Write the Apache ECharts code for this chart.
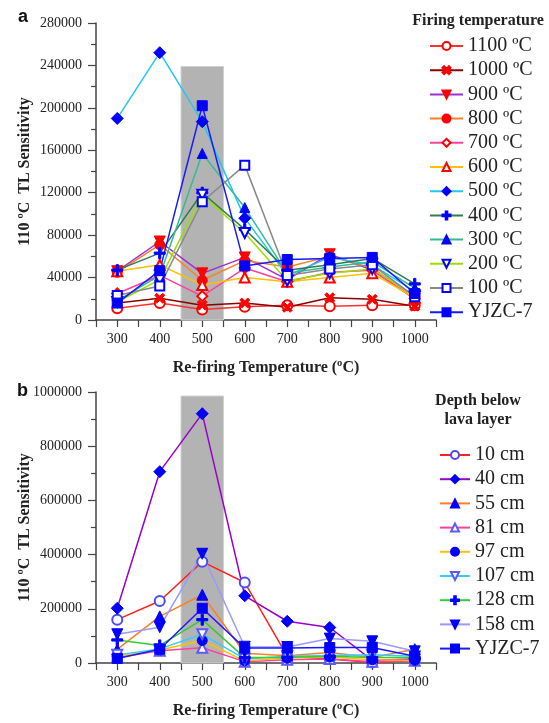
<!DOCTYPE html>
<html>
<head>
<meta charset="utf-8">
<script src="https://cdn.jsdelivr.net/npm/echarts@6/dist/echarts.min.js"></script>
<style>
  html, body { margin: 0; background: #fff; }
  #chart { width: 549px; height: 723px; }
</style>
</head>
<body>
<div id="chart"></div>
<script>
  // re-firing temperatures (x values, shared by both panels)
  const refireTemps = [300, 400, 500, 600, 700, 800, 900, 1000];
  const xTickLabels = [300, 400, 500, 600, 700, 800, 900, 1000];

  // panel a: firing temperature series
  const t1100 = [11000, 16000, 10000, 12500, 14000, 13000, 14000, 14000];
  const t1000 = [16000, 20500, 14000, 16000, 12000, 21000, 19500, 13000];
  const t900 = [46000, 74000, 44000, 59000, 38000, 62000, 47000, 20000];
  const t800 = [45000, 71000, 37500, 56000, 50000, 60000, 49000, 22000];
  const t700 = [25000, 42000, 22500, 49000, 36000, 45000, 47000, 20000];
  const t600 = [46000, 52000, 33000, 40000, 36000, 40000, 44000, 21000];
  const t500 = [190000, 252000, 187000, 96000, 42000, 59000, 52000, 27000];
  const t400 = [47000, 63000, 120000, 85500, 47000, 52000, 58000, 34000];
  const t300 = [18000, 42000, 157000, 106000, 44000, 50000, 55000, 30000];
  const t200 = [17000, 38000, 118000, 82000, 37000, 44000, 48000, 23000];
  const t100 = [23000, 32000, 111500, 146000, 42000, 48000, 52000, 22000];
  const tYJZC = [16000, 46500, 202000, 51000, 57000, 58000, 59000, 25000];

  // panel b: depth below lava layer series
  const d10 = [160000, 229000, 374000, 297000, 25000, 15000, 2000, 10000];
  const d40 = [202000, 706000, 920000, 248000, 154000, 131000, 10000, 15000];
  const d55 = [50000, 172000, 252000, 36000, 27000, 39000, 20000, 51000];
  const d81 = [20000, 45000, 56000, 5000, 12000, 15000, 5000, 8000];
  const d97 = [25000, 48000, 83000, 8000, 18000, 22000, 12000, 10000];
  const d107 = [30000, 52000, 106000, 15000, 25000, 28000, 30000, 25000];
  const d128 = [85000, 65000, 160000, 20000, 20000, 25000, 20000, 20000];
  const d158 = [106000, 132000, 403000, 60000, 59000, 90000, 80000, 43000];
  const dYJZC = [17000, 51000, 202000, 55000, 55000, 57000, 57000, 25000];

  // shaded band (x range and top)
  const bandX = [450, 550];
  const bandTopA = 239000;
  const bandTopB = 985000;

  const RED = '#ff0000', BLUE = '#0000ff';
  const X_SYM = 'path://M0,2 L2,0 L5,3 L8,0 L10,2 L7,5 L10,8 L8,10 L5,7 L2,10 L0,8 L3,5 Z';
  const PLUS_SYM = 'path://M4,0 H6 V4 H10 V6 H6 V10 H4 V6 H0 V4 H4 Z';
  const serif = 'Liberation Serif';

  function line(name, vals, color, symbol, mColor, size, rotate, gi) {
    return {
      name: name,
      type: 'line',
      xAxisIndex: gi,
      yAxisIndex: gi,
      z: 3,
      data: refireTemps.map((x, i) => [x, vals[i]]),
      symbol: symbol,
      symbolSize: size,
      symbolRotate: rotate || 0,
      lineStyle: { color: color, width: 1.5 },
      itemStyle: { color: mColor, borderColor: mColor, borderWidth: 1 }
    };
  }

  function band(gi, top) {
    return {
      type: 'line', xAxisIndex: gi, yAxisIndex: gi, z: 1, data: [],
      markArea: {
        silent: true,
        itemStyle: { color: '#b3b3b3', borderColor: '#d0d0d0', borderWidth: 1 },
        data: [[{ xAxis: bandX[0], yAxis: 0 }, { xAxis: bandX[1], yAxis: top }]]
      }
    };
  }

  function xAx(gi) {
    return {
      type: 'value', gridIndex: gi, min: 250, max: 1050, interval: 50,
      name: 'Re-firing Temperature (ºC)', nameLocation: 'middle', nameGap: 40,
      nameTextStyle: { fontFamily: serif, fontWeight: 'bold', fontSize: 16, color: '#222' },
      axisLine: { lineStyle: { color: '#444', width: 1.5 } },
      axisTick: { length: 7, lineStyle: { color: '#444', width: 1.2 } },
      axisLabel: {
        margin: 12, fontFamily: serif, fontSize: 14, color: '#222',
        formatter: v => xTickLabels.indexOf(v) >= 0 ? String(v) : ''
      },
      splitLine: { show: false }
    };
  }

  function yAx(gi, max, interval) {
    return {
      type: 'value', gridIndex: gi, min: 0, max: max, interval: interval,
      name: '110 ºC  TL Sensitivity', nameLocation: 'middle', nameGap: 63,
      nameMoveOverlap: false,
      nameTextStyle: { fontFamily: serif, fontWeight: 'bold', fontSize: 16, color: '#222' },
      axisLine: { show: true, lineStyle: { color: '#444', width: 1.5 } },
      axisTick: { show: true, length: 8, lineStyle: { color: '#444', width: 1.2 } },
      minorTick: { show: true, splitNumber: 2, length: 5, lineStyle: { color: '#444', width: 1.2 } },
      axisLabel: { margin: 14, fontFamily: serif, fontSize: 14, color: '#222', formatter: v => String(v) },
      splitLine: { show: false }
    };
  }

  const seriesA = [
    line('1100 ºC', t1100, '#ff3030', 'emptyCircle', RED, 10, 0, 0),
    line('1000 ºC', t1000, '#8b0000', X_SYM, RED, 10, 0, 0),
    line('900 ºC', t900, '#9b30d0', 'triangle', RED, 11, 180, 0),
    line('800 ºC', t800, '#ff7f27', 'circle', RED, 10, 0, 0),
    line('700 ºC', t700, '#ff40a0', 'emptyDiamond', RED, 10, 0, 0),
    line('600 ºC', t600, '#ffc000', 'emptyTriangle', RED, 10, 0, 0),
    line('500 ºC', t500, '#22c8f0', 'diamond', BLUE, 12, 0, 0),
    line('400 ºC', t400, '#2e7d4f', PLUS_SYM, BLUE, 11, 0, 0),
    line('300 ºC', t300, '#33bb99', 'triangle', BLUE, 10, 0, 0),
    line('200 ºC', t200, '#99e000', 'emptyTriangle', BLUE, 10, 180, 0),
    line('100 ºC', t100, '#888888', 'emptyRect', BLUE, 9, 0, 0),
    line('YJZC-7', tYJZC, '#1a1aff', 'rect', BLUE, 10, 0, 0)
  ];

  const seriesB = [
    line('10 cm', d10, '#ff2020', 'emptyCircle', '#4a4aff', 10, 0, 1),
    line('40 cm', d40, '#9900cc', 'diamond', BLUE, 12, 0, 1),
    line('55 cm', d55, '#ff7f27', 'triangle', BLUE, 11, 0, 1),
    line('81 cm', d81, '#ff40a0', 'emptyTriangle', '#5a5aff', 10, 0, 1),
    line('97 cm', d97, '#ffc000', 'circle', BLUE, 10, 0, 1),
    line('107 cm', d107, '#33ccff', 'emptyTriangle', '#5a5aff', 10, 180, 1),
    line('128 cm', d128, '#33cc33', PLUS_SYM, BLUE, 11, 0, 1),
    line('158 cm', d158, '#9999ff', 'triangle', BLUE, 11, 180, 1),
    line('YJZC-7 ', dYJZC, '#1a1aff', 'rect', BLUE, 10, 0, 1)
  ];

  const legendText = { fontFamily: serif, fontSize: 20, color: '#222' };

  const option = {
    animation: false,
    backgroundColor: '#fff',
    grid: [
      { left: 96, top: 23, width: 340, height: 297, outerBoundsMode: 'none' },
      { left: 96, top: 392, width: 340, height: 271, outerBoundsMode: 'none' }
    ],
    xAxis: [xAx(0), xAx(1)],
    yAxis: [yAx(0, 280000, 40000), yAx(1, 1000000, 200000)],
    legend: [
      {
        orient: 'vertical', left: 424, top: 31, itemWidth: 33, itemHeight: 10, itemGap: 4.2,
        data: seriesA.map(s => s.name), textStyle: legendText
      },
      {
        orient: 'vertical', left: 434, top: 440, itemWidth: 30, itemHeight: 10, itemGap: 4.2,
        data: seriesB.map(s => s.name), textStyle: legendText
      }
    ],
    graphic: [
      { type: 'text', left: 18, top: 8, style: { text: 'a', font: 'bold 18px Liberation Sans', fill: '#111' } },
      { type: 'text', left: 17, top: 382, style: { text: 'b', font: 'bold 18px Liberation Sans', fill: '#111' } },
      { type: 'text', x: 478, y: 21, style: { text: 'Firing temperature', font: 'bold 16px Liberation Serif', fill: '#222', align: 'center', verticalAlign: 'middle' } },
      { type: 'text', x: 478, y: 401, style: { text: 'Depth below', font: 'bold 16px Liberation Serif', fill: '#222', align: 'center', verticalAlign: 'middle' } },
      { type: 'text', x: 478, y: 420, style: { text: 'lava layer', font: 'bold 16px Liberation Serif', fill: '#222', align: 'center', verticalAlign: 'middle' } }
    ],
    series: [band(0, bandTopA), band(1, bandTopB)].concat(seriesA, seriesB)
  };

  const chart = echarts.init(document.getElementById('chart'), null, { renderer: 'canvas' });
  chart.setOption(option);
</script>
</body>
</html>
